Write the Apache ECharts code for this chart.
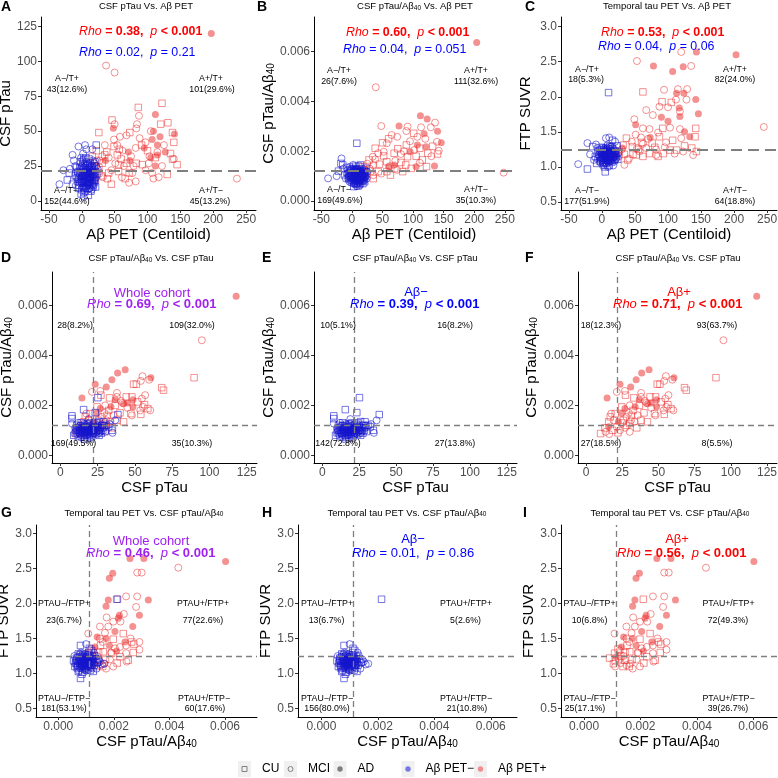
<!DOCTYPE html>
<html><head><meta charset="utf-8">
<script src="https://cdn.jsdelivr.net/npm/echarts@6.0.0/dist/echarts.min.js"></script>
<style>html,body{margin:0;padding:0;background:#fff;}#c{width:778px;height:778px;}</style>
</head><body><div id="c"></div>
<script>
// ---------- tick labels ----------
const clTicks = [-50, 0, 50, 100, 150, 200, 250];
const ptauTicks = [0, 25, 50, 75, 100, 125];
const ratioTicks = [0, 0.002, 0.004, 0.006];
const ftpTicks = [0.5, 1.0, 1.5, 2.0, 2.5, 3.0];

// ---------- thresholds ----------
const ptauCut = 21.8, ratioCut = 0.0012, ratioCutTau = 0.00113, ftpCut = 1.25;

// ---------- Panel A: [Centiloid, CSF pTau] ----------
const A_negCU = [[-22,15],[-19,20],[-14,12],[-10,18],[-8,24],[-6,14],[-5,9],[-3,20],[-2,28],[0,16],[1,11],[2,22],[3,6],[4,18],[5,26],[6,13],[7,20],[8,9],[9,16],[10,23],[11,30],[12,14],[13,19],[14,7],[15,25],[16,12],[17,18],[18,22],[19,15],[20,28],[21,10],[22,40],[23,19],[6,31],[-1,5],[10,4],[3,14],[8,25],[13,11],[-4,17],
  [-6,20],[-4,11],[-2,15],[-1,23],[0,8],[1,14],[2,18],[2,27],[3,10],[4,21],[4,14],[5,7],[5,19],[6,17],[6,24],[7,11],[7,15],[8,21],[8,13],[9,19],[9,27],[10,16],[10,9],[11,20],[11,13],[12,17],[12,22],[13,15],[14,24],[14,17],[15,13],[15,20],[16,16],[16,24],[17,10],[18,14],[18,19],[19,25],[20,17],[21,21],[-3,24],[-5,16],[3,30],[13,27]];
const A_negMCI = [[-34,12],[-28,22],[-18,23],[-14,33],[-12,29],[-5,39],[2,34],[5,40],[7,37],[16,37],[-9,11],[-7,21],[-3,13],[0,25],[1,19],[4,10],[5,15],[7,28],[9,21],[11,17],[12,26],[14,21],[15,8],[17,29],[19,19],[20,13],[24,23],[-1,31],[3,3],[10,13],
  [-8,17],[-2,21],[0,13],[2,9],[3,24],[5,21],[6,9],[8,16],[9,12],[11,24],[12,9],[13,16],[15,18],[16,21],[18,11],[19,27],[21,16],[22,25],[-10,25],[1,29]];
const A_negAD = [[8,19],[-2,17]];
const A_posCU = [[122,70],[86,67],[131,56],[120,55],[46,58],[26,49],[138,49],[73,49],[91,40],[112,31],[135,34],[138,30],[54,33],[38,35],[31,27],[56,26],[68,27],[83,27],[92,26],[145,26],[130,19],[41,20],[56,21],[72,20],[66,16],[39,16],[26,20],[21,15],[21,25],[26,24],[16,32],[49,39],[57,37],[35,33],[140,42],[100,36],[60,30],[30,18],[45,12],[22,36]];
const A_posMCI = [[37,97],[50,92],[87,61],[84,55],[50,55],[105,50],[68,47],[83,52],[58,46],[49,44],[97,42],[115,35],[103,32],[31,32],[41,31],[27,29],[51,27],[64,25],[79,25],[102,27],[97,22],[122,25],[140,30],[107,20],[109,16],[117,17],[45,22],[77,20],[82,14],[72,13],[61,17],[32,17],[236,16],[17,22],[23,29],[54,40],[82,38],[88,45],[125,40],[62,36],[35,40],[75,32]];
const A_posAD = [[197,120],[112,62],[48,52],[109,50],[141,48],[107,44],[115,40],[127,35],[115,33],[71,35],[73,29],[36,29],[112,25],[105,31],[119,46],[95,38]];

// ---------- Panel B: [Centiloid, CSF pTau/Abeta40] ----------
const B_negCU = [[8,0.00232],[-18,0.00151],[-15,0.00145],[-22,0.0012],[-12,0.00105],[-8,0.00135],[-5,0.0009],[-3,0.0012],[0,0.00075],[1,0.00103],[2,0.0013],[4,0.00088],[5,0.00115],[6,0.00068],[7,0.00098],[8,0.00125],[9,0.0008],[10,0.00108],[11,0.0014],[12,0.00092],[13,0.00118],[14,0.0007],[15,0.001],[16,0.00128],[17,0.00085],[18,0.0011],[19,0.00095],[20,0.0012],[21,0.00078],[22,0.00105],[23,0.00132],[-2,0.00098],[3,0.00058],[10,0.0006],[-6,0.00112],[14,0.00145],[6,0.0014],[0,0.00125],[18,0.0007],
  [-6,0.00095],[-4,0.0011],[-2,0.00085],[-1,0.0012],[0,0.001],[1,0.00082],[2,0.00112],[3,0.00095],[4,0.00125],[5,0.0008],[5,0.001],[6,0.00118],[7,0.0009],[7,0.00072],[8,0.00108],[9,0.00095],[9,0.00118],[10,0.00085],[11,0.001],[11,0.00078],[12,0.00112],[13,0.00088],[13,0.00128],[14,0.001],[15,0.00082],[15,0.00115],[16,0.00095],[17,0.0012],[18,0.0009],[19,0.00108],[20,0.00085],[21,0.001],[22,0.00118],[3,0.00072],[12,0.00065],[-3,0.001],[6,0.00088],[16,0.0011]];
const B_negMCI = [[-17,0.00171],[-39,0.00091],[-25,0.001],[-10,0.0009],[-7,0.00125],[-4,0.00078],[-1,0.0011],[1,0.0009],[3,0.00122],[4,0.0007],[6,0.00105],[7,0.00085],[9,0.0013],[10,0.00095],[12,0.00075],[13,0.00108],[15,0.0009],[16,0.00115],[19,0.0008],[20,0.001],[24,0.0009],[25,0.00118],[-14,0.0013],[2,0.00145],[8,0.0006],[11,0.0012],[17,0.001],[-3,0.00138],
  [-5,0.001],[-2,0.0013],[0,0.0009],[2,0.001],[4,0.00095],[6,0.0012],[8,0.0009],[10,0.0011],[12,0.001],[14,0.00122],[16,0.00088],[18,0.00102],[20,0.00112],[22,0.00095],[5,0.0013],[9,0.0007],[13,0.00082],[-8,0.00108]];
const B_negAD = [[5,0.001],[12,0.00112]];
const B_posCU = [[101,0.00272],[50,0.00234],[111,0.00212],[89,0.00225],[124,0.00192],[140,0.00189],[91,0.00178],[69,0.00192],[52,0.00181],[28,0.00165],[57,0.00158],[80,0.00155],[88,0.00145],[122,0.00138],[97,0.00131],[57,0.00118],[43,0.00118],[24,0.00111],[18,0.00138],[83,0.00118],[63,0.00104],[38,0.00212],[30,0.0012],[45,0.00148],[70,0.0013],[115,0.00165],[132,0.0022],[60,0.0025],[35,0.0009],[20,0.00125],[75,0.0021],[105,0.0018]];
const B_posMCI = [[39,0.00457],[136,0.00315],[91,0.00299],[48,0.00301],[113,0.00296],[129,0.00296],[89,0.00281],[74,0.00258],[65,0.00265],[107,0.00258],[57,0.00232],[139,0.00238],[102,0.00205],[142,0.00202],[80,0.00189],[43,0.00192],[34,0.00178],[38,0.00167],[71,0.00162],[111,0.00154],[74,0.00125],[29,0.00131],[35,0.00104],[15,0.00098],[248,0.00114],[35,0.00145],[52,0.00198],[95,0.0024],[120,0.0025],[25,0.0015],[48,0.0011],[85,0.002],[62,0.0014],[130,0.0018]];
const B_posAD = [[204,0.00637],[112,0.00342],[123,0.00329],[77,0.00301],[107,0.00225],[146,0.00234],[121,0.00218],[95,0.00198],[69,0.00145],[60,0.00138],[105,0.00138],[135,0.00141],[118,0.0027],[140,0.0028]];

// ---------- Panel C: [Centiloid, FTP SUVR] ----------
const C_negCU = [[10,2.06],[5,0.93],[-22,0.97],[16,1.38],[-14,1.29],[-10,1.15],[-6,1.22],[-3,1.08],[0,1.18],[2,1.27],[3,1.05],[5,1.13],[6,1.21],[8,1.1],[9,1.3],[10,1.16],[11,1.02],[12,1.24],[13,1.12],[14,1.19],[15,1.07],[16,1.26],[17,1.14],[18,1.2],[19,1.09],[20,1.23],[22,1.17],[24,1.11],[-8,1.05],[1,1.12],[7,1.25],[4,1.0],[-1,1.28],[23,1.3],
  [-6,1.12],[-4,1.18],[-2,1.1],[-1,1.15],[0,1.24],[1,1.19],[2,1.13],[3,1.21],[3,1.1],[4,1.16],[5,1.22],[5,1.07],[6,1.12],[6,1.27],[7,1.17],[8,1.14],[8,1.23],[9,1.1],[9,1.19],[10,1.26],[10,1.08],[11,1.14],[11,1.2],[12,1.17],[13,1.23],[13,1.09],[14,1.15],[15,1.2],[16,1.12],[17,1.18],[18,1.1],[19,1.22],[20,1.15],[21,1.19],[2,1.03],[7,1.05],[12,1.29],[-3,1.24]];
const C_negMCI = [[-36,1.04],[11,1.42],[20,1.36],[6,1.41],[-22,1.34],[-18,1.18],[-12,1.1],[-7,1.27],[-4,1.14],[-2,1.2],[1,1.06],[3,1.16],[4,1.24],[7,1.09],[8,1.18],[10,1.22],[12,1.08],[14,1.13],[15,1.3],[17,1.02],[19,1.16],[21,1.11],[25,1.2],[-9,1.32],[0,1.1],[9,1.0],[13,1.28],[18,1.25],
  [-5,1.17],[-2,1.06],[0,1.21],[2,1.17],[4,1.11],[5,1.18],[7,1.21],[9,1.14],[11,1.17],[12,1.12],[14,1.22],[16,1.17],[18,1.14],[20,1.2],[22,1.13],[6,1.06],[10,1.11],[3,1.26]];
const C_negAD = [[6,1.15],[-1,1.2]];
const C_posCU = [[62,2.07],[105,1.92],[91,1.93],[92,1.55],[142,1.55],[87,1.43],[141,1.43],[37,1.41],[107,1.38],[76,1.34],[46,1.29],[32,1.31],[103,1.24],[113,1.24],[136,1.27],[143,1.22],[93,1.19],[72,1.19],[47,1.18],[34,1.18],[26,1.22],[62,1.15],[39,1.1],[52,1.17],[16,1.15],[60,1.35],[80,1.28],[125,1.3],[55,1.25],[85,1.15]];
const C_posMCI = [[53,2.51],[120,2.64],[135,2.44],[115,2.11],[129,2.11],[128,1.96],[112,1.96],[94,2.1],[87,1.86],[100,1.85],[118,1.79],[67,1.81],[77,1.74],[49,1.68],[62,1.55],[72,1.54],[103,1.56],[118,1.54],[85,1.49],[51,1.46],[59,1.42],[120,1.41],[97,1.35],[62,1.33],[67,1.27],[82,1.25],[123,1.22],[138,1.17],[110,1.19],[82,1.17],[57,1.22],[41,1.12],[26,1.15],[53,1.27],[34,1.03],[245,1.57],[70,1.4],[45,1.36],[95,1.28],[30,1.25]];
const C_posAD = [[78,2.44],[107,2.36],[143,2.64],[203,2.6],[123,2.43],[113,2.05],[124,2.05],[142,1.96],[117,1.84],[118,1.72],[146,1.76],[90,1.71],[51,1.6],[133,1.43],[73,1.42],[21,1.18],[31,1.27],[100,1.65],[125,1.5]];

// ---------- Panels D-F: [CSF pTau, CSF pTau/Abeta40] ----------
const DF_negCU = [[25.2,0.00231],[23.4,0.00171],[38.6,0.00163],[7.8,0.00158],[7.8,0.00147],[15.6,0.00183],[29,0.00134],[32.4,0.00114],[34.6,0.001],[10,0.0009],[11,0.0012],[12,0.00075],[13,0.001],[14,0.0013],[15,0.0008],[16,0.0011],[17,0.00095],[18,0.0007],[19,0.00125],[20,0.00085],[21,0.00105],[22,0.0012],[23,0.0009],[24,0.0013],[25,0.001],[26,0.0008],[27,0.0011],[28,0.0012],[30,0.00095],[12,0.00105],[14,0.00088],[18,0.00115],[20,0.0013],[9,0.0008],[16,0.00065],[31,0.0012],[26,0.00135],[22,0.00098],
  [10.5,0.001],[11.5,0.00095],[12.5,0.00112],[13.5,0.00085],[14.5,0.001],[15,0.00118],[15.5,0.00092],[16.5,0.00098],[17,0.00115],[17.5,0.00085],[18.5,0.00102],[19,0.00092],[19.5,0.0008],[20,0.0011],[20.5,0.00098],[21.5,0.00088],[22.5,0.00105],[23.5,0.00115],[24,0.00085],[24.5,0.001],[25.5,0.00112],[26.5,0.00098],[27.5,0.00088],[28.5,0.001],[29.5,0.00118],[13,0.0009],[16,0.00078],[21,0.00075],[18,0.00125],[23,0.00125],[14,0.0011],[19,0.001]];
const DF_negMCI = [[36.8,0.0014],[7.8,0.00127],[10,0.0011],[11,0.00085],[13,0.00118],[14,0.00072],[15,0.00102],[16,0.00125],[17,0.0008],[18,0.00092],[19,0.0011],[20,0.00068],[21,0.00095],[22,0.00082],[23,0.0011],[24,0.00093],[25,0.0012],[27,0.00095],[29,0.0011],[33,0.00125],[35,0.0009],[12,0.0013],[19,0.00145],[17,0.00105],[26,0.0009],
  [11,0.001],[12.5,0.0009],[14,0.00098],[15.5,0.0011],[17,0.00092],[18.5,0.00085],[20,0.001],[21.5,0.00112],[23,0.00098],[24.5,0.0011],[26,0.00102],[27.5,0.0012],[16,0.0009],[19.5,0.00118],[22,0.0009],[13.5,0.0012]];
const DF_negAD = [[18,0.001],[21,0.0011]];
const DF_posCU = [[89.7,0.00311],[49.1,0.00285],[51,0.00285],[68,0.00271],[69.2,0.00261],[27.2,0.00241],[44.2,0.00234],[48,0.00234],[51.8,0.00214],[36.8,0.002],[47.3,0.00167],[54,0.00164],[58.7,0.00187],[56.5,0.00203],[32.4,0.0018],[24.6,0.00194],[31.3,0.0016],[20.1,0.00167],[25.7,0.0014],[37.9,0.0014],[42.4,0.00134],[30.1,0.00127],[18.3,0.001],[10,0.00087],[15.6,0.00134],[16.7,0.00154],[28,0.0012],[22,0.0009],[35,0.0011],[13,0.0011],[40,0.0017],[33,0.0023]];
const DF_posMCI = [[94.9,0.00461],[55.1,0.00317],[54,0.00298],[59.6,0.00303],[26.8,0.00258],[21.2,0.00254],[37.9,0.00234],[40.6,0.00218],[56.9,0.00241],[54.7,0.00227],[41.7,0.0021],[55.4,0.00194],[53.6,0.0018],[60.3,0.0018],[30.1,0.002],[29.5,0.0017],[17.4,0.00167],[27.9,0.00154],[35.7,0.0016],[33.5,0.00134],[21.2,0.00114],[13.4,0.00094],[23.4,0.001],[30.1,0.00094],[45,0.0019],[25,0.0013],[19,0.0014],[38,0.0025],[31,0.0014],[48,0.0016],[16,0.00085],[27,0.0011]];
const DF_posAD = [[117.9,0.00637],[43.5,0.00343],[38.4,0.0033],[34.6,0.00303],[60.7,0.00311],[23.4,0.00285],[14.5,0.0023],[30.8,0.00274],[36.8,0.00223],[48.7,0.00223],[42.4,0.00207],[48.7,0.00194],[26.8,0.00187],[24.6,0.00167],[22.3,0.00134],[15.6,0.00114],[33.9,0.00194],[45,0.0021]];

// ---------- Panels G-I: [CSF pTau/Abeta40, FTP SUVR] ----------
const GI_negCU = [[0.00213,2.06],[0.0008,1.40],[0.00112,1.36],[0.0008,0.93],[0.00085,0.99],[0.0006,1.1],[0.00065,1.22],[0.0007,1.15],[0.00072,1.28],[0.00075,1.05],[0.0008,1.18],[0.00083,1.1],[0.00086,1.25],[0.0009,1.13],[0.00093,1.2],[0.00096,1.06],[0.001,1.16],[0.00103,1.23],[0.00106,1.1],[0.0011,1.3],[0.00113,1.14],[0.00116,1.2],[0.0012,1.08],[0.00123,1.25],[0.00127,1.17],[0.0013,1.12],[0.00135,1.21],[0.0014,1.16],[0.00055,1.18],[0.00088,1.02],[0.00098,1.27],[0.00118,1.33],[0.00068,1.08],[0.00105,1.19],[0.00126,1.03],
  [0.00062,1.15],[0.00066,1.2],[0.0007,1.1],[0.00074,1.17],[0.00077,1.23],[0.0008,1.12],[0.00082,1.2],[0.00085,1.15],[0.00087,1.08],[0.0009,1.18],[0.00092,1.24],[0.00094,1.13],[0.00097,1.2],[0.00099,1.1],[0.00101,1.17],[0.00104,1.14],[0.00107,1.22],[0.00109,1.07],[0.00111,1.17],[0.00114,1.25],[0.00117,1.12],[0.0012,1.19],[0.00122,1.14],[0.00124,1.21],[0.00078,1.27],[0.00089,1.28],[0.00101,1.05],[0.00116,1.05],[0.00072,1.03],[0.00095,1.16]];
const GI_negMCI = [[0.001,1.42],[0.00157,1.13],[0.00142,1.15],[0.00166,1.14],[0.0015,1.17],[0.00058,1.25],[0.00066,1.12],[0.00074,1.2],[0.00078,1.08],[0.00084,1.15],[0.00088,1.22],[0.00092,1.1],[0.00095,1.17],[0.00099,1.24],[0.00102,1.04],[0.00108,1.14],[0.00111,1.22],[0.00115,1.09],[0.00119,1.17],[0.00124,1.12],[0.00132,1.26],[0.00138,1.07],[0.00145,1.2],[0.00128,1.3],[0.00082,1.3],
  [0.00064,1.18],[0.0007,1.24],[0.00076,1.14],[0.00081,1.19],[0.00086,1.11],[0.0009,1.2],[0.00094,1.15],[0.00098,1.12],[0.00103,1.19],[0.00106,1.26],[0.0011,1.12],[0.00113,1.19],[0.00118,1.23],[0.00121,1.16],[0.00085,1.25],[0.00097,1.08]];
const GI_negAD = [[0.00095,1.12],[0.0011,1.15]];
const GI_posCU = [[0.0021,2.06],[0.00234,1.57],[0.00198,1.49],[0.00272,1.42],[0.00264,1.45],[0.00152,1.40],[0.00162,1.31],[0.00192,1.29],[0.00222,1.24],[0.00252,1.19],[0.00144,1.19],[0.00138,1.10],[0.00212,1.15],[0.00124,1.21],[0.00104,1.14],[0.00108,1.29],[0.0013,1.25],[0.0017,1.2],[0.0011,1.18],[0.0016,1.1],[0.00145,1.3],[0.0012,1.35],[0.0009,1.22],[0.0027,1.3]];
const GI_posMCI = [[0.00432,2.51],[0.00284,2.44],[0.003,2.44],[0.00284,2.10],[0.00244,2.10],[0.0028,1.95],[0.00236,1.85],[0.00174,1.80],[0.00198,1.74],[0.00224,1.74],[0.0018,1.67],[0.0015,1.67],[0.00168,1.58],[0.00108,1.57],[0.0015,1.50],[0.0026,1.50],[0.00292,1.45],[0.00244,1.40],[0.00204,1.36],[0.00292,1.34],[0.00244,1.29],[0.00246,1.17],[0.00186,1.20],[0.00164,1.14],[0.00198,1.10],[0.00172,1.07],[0.0015,1.12],[0.00126,1.33],[0.00222,1.38],[0.0014,1.25],[0.0019,1.3],[0.0011,1.1],[0.0016,1.45],[0.0013,1.15]];
const GI_posAD = [[0.00602,2.60],[0.00308,2.64],[0.00258,2.64],[0.00196,2.43],[0.00184,2.36],[0.00324,2.05],[0.0018,2.05],[0.00172,1.96],[0.0022,1.83],[0.00216,1.79],[0.00292,1.83],[0.00268,1.67],[0.00204,1.60],[0.0014,1.52],[0.00172,1.50],[0.00184,1.40],[0.00132,1.38],[0.0021,1.32],[0.00114,1.24],[0.0024,1.45]];

// ---------- styling ----------
const FONT = "'Liberation Sans', Arial, Helvetica, sans-serif";
const BLUE = 'rgba(20,20,205,0.72)', BLUEF = 'rgba(20,20,205,0.62)';
const RED = 'rgba(235,35,35,0.62)', REDF = 'rgba(235,45,45,0.66)';

function mk(gi, data, kind, grp) {
  const col = grp === 'neg' ? BLUE : RED;
  const s = { type: 'scatter', xAxisIndex: gi, yAxisIndex: gi, data: data, silent: true, animation: false, z: grp === 'neg' ? 3 : 2 };
  if (kind === 'CU') { s.symbol = 'rect'; s.symbolSize = 6.5; s.itemStyle = { color: 'rgba(0,0,0,0)', borderColor: col, borderWidth: 1 }; }
  else if (kind === 'MCI') { s.symbol = 'circle'; s.symbolSize = 7; s.itemStyle = { color: 'rgba(0,0,0,0)', borderColor: col, borderWidth: 1 }; }
  else { s.symbol = 'circle'; s.symbolSize = 7; s.itemStyle = { color: grp === 'neg' ? BLUEF : REDF, borderWidth: 0 }; }
  return s;
}
const negSets = (cu, mci, ad) => [[cu, 'CU', 'neg'], [mci, 'MCI', 'neg'], [ad, 'AD', 'neg']];
const posSets = (cu, mci, ad) => [[cu, 'CU', 'pos'], [mci, 'MCI', 'pos'], [ad, 'AD', 'pos']];

const subRich = (fs) => ({ s: { fontSize: fs, verticalAlign: 'bottom', fontFamily: FONT, color: '#000', fill: '#000' } });
const RATIO_NAME = 'CSF pTau/Aβ{s|40}';

const P = [
  { g: [41, 17, 215, 193], xr: [-62, 265], yr: [-6.5, 131.8], xt: clTicks, yt: ptauTicks, xf: 0, yf: 0, xn: 'Aβ PET (Centiloid)', yn: 'CSF pTau', xg: 10.5, yg: 24, sets: posSets(A_posCU, A_posMCI, A_posAD).concat(negSets(A_negCU, A_negMCI, A_negAD)), h: ptauCut, v: null, row: 1 },
  { g: [314, 17, 200, 193], xr: [-62, 265], yr: [-0.00036, 0.00739], xt: clTicks, yt: ratioTicks, xf: 0, yf: 3, xn: 'Aβ PET (Centiloid)', yn: RATIO_NAME, xg: 10.5, yg: 36, sets: posSets(B_posCU, B_posMCI, B_posAD).concat(negSets(B_negCU, B_negMCI, B_negAD)), h: ratioCut, v: null, row: 1 },
  { g: [561, 17, 216, 193], xr: [-62, 265], yr: [0.386, 3.138], xt: clTicks, yt: ftpTicks, xf: 0, yf: 1, xn: 'Aβ PET (Centiloid)', yn: 'FTP SUVR', xg: 10.5, yg: 28, sets: posSets(C_posCU, C_posMCI, C_posAD).concat(negSets(C_negCU, C_negMCI, C_negAD)), h: ftpCut, v: null, row: 1 },
  { g: [52, 272, 205, 191], xr: [-5.6, 131.9], yr: [-0.00031, 0.007347], xt: ptauTicks, yt: ratioTicks, xf: 0, yf: 3, xn: 'CSF pTau', yn: RATIO_NAME, xg: 13, yg: 35.5, sets: posSets(DF_posCU, DF_posMCI, DF_posAD).concat(negSets(DF_negCU, DF_negMCI, DF_negAD)), h: ratioCut, v: ptauCut, row: 2 },
  { g: [314, 272, 203, 191], xr: [-5.6, 131.9], yr: [-0.00031, 0.007347], xt: ptauTicks, yt: ratioTicks, xf: 0, yf: 3, xn: 'CSF pTau', yn: RATIO_NAME, xg: 13, yg: 37, sets: negSets(DF_negCU, DF_negMCI, DF_negAD), h: ratioCut, v: ptauCut, row: 2 },
  { g: [578, 272, 199, 191], xr: [-5.6, 131.9], yr: [-0.00031, 0.007347], xt: ptauTicks, yt: ratioTicks, xf: 0, yf: 3, xn: 'CSF pTau', yn: RATIO_NAME, xg: 13, yg: 39, sets: posSets(DF_posCU, DF_posMCI, DF_posAD), h: ratioCut, v: ptauCut, row: 2 },
  { g: [36, 525, 221, 192], xr: [-0.0008, 0.00715], yr: [0.38, 3.119], xt: ratioTicks, yt: ftpTicks, xf: 3, yf: 1, xn: RATIO_NAME, yn: 'FTP SUVR', xg: 15, yg: 20, sets: posSets(GI_posCU, GI_posMCI, GI_posAD).concat(negSets(GI_negCU, GI_negMCI, GI_negAD)), h: ftpCut, v: ratioCutTau, row: 3 },
  { g: [298, 525, 219, 192], xr: [-0.00083, 0.00693], yr: [0.38, 3.119], xt: ratioTicks, yt: ftpTicks, xf: 3, yf: 1, xn: RATIO_NAME, yn: 'FTP SUVR', xg: 15, yg: 22, sets: negSets(GI_negCU, GI_negMCI, GI_negAD), h: ftpCut, v: ratioCutTau, row: 3 },
  { g: [561, 525, 216, 192], xr: [-0.00082, 0.00684], yr: [0.38, 3.119], xt: ratioTicks, yt: ftpTicks, xf: 3, yf: 1, xn: RATIO_NAME, yn: 'FTP SUVR', xg: 15, yg: 22, sets: posSets(GI_posCU, GI_posMCI, GI_posAD), h: ftpCut, v: ratioCutTau, row: 3 }
];

function axis(isX, i, p) {
  const r = isX ? p.xr : p.yr, t = isX ? p.xt : p.yt, f = isX ? p.xf : p.yf;
  return {
    type: 'value', gridIndex: i, min: r[0], max: r[1],
    name: isX ? p.xn : p.yn, nameLocation: 'middle', nameGap: isX ? p.xg : p.yg, nameRotate: isX ? 0 : 90,
    nameTextStyle: { fontSize: 15, color: '#000', fontFamily: FONT, rich: subRich(10) },
    axisLine: { show: true, onZero: false, lineStyle: { color: '#000', width: 1 } },
    axisTick: { show: true, length: 3, lineStyle: { color: '#333', width: 1 }, customValues: t },
    axisLabel: { show: true, color: '#4D4D4D', fontSize: 12, fontFamily: FONT, margin: 4, customValues: t,
      formatter: v => f > 0 ? Number(v).toFixed(f) : String(Math.round(v)) },
    splitLine: { show: false }
  };
}

const option = { animation: false, backgroundColor: '#fff', grid: [], xAxis: [], yAxis: [], series: [], graphic: { elements: [] } };
P.forEach((p, i) => {
  option.grid.push({ left: p.g[0], top: p.g[1], width: p.g[2], height: p.g[3], containLabel: false, outerBoundsMode: 'none' });
  option.xAxis.push(axis(true, i, p));
  option.yAxis.push(axis(false, i, p));
  const ser = p.sets.map(s => mk(i, s[0], s[1], s[2]));
  const ml = [];
  if (p.h != null) ml.push({ yAxis: p.h });
  if (p.v != null) ml.push({ xAxis: p.v });
  const last = ser[ser.length - 1];
  last.markLine = { silent: true, animation: false, precision: 8, symbol: ['none', 'none'], label: { show: false },
    lineStyle: p.row === 1 ? { color: '#7F7F7F', width: 2.2, type: [11, 6] } : { color: '#7F7F7F', width: 1.3, type: [6, 4] },
    emphasis: { disabled: true }, data: ml };
  option.series.push(...ser);
});

// ---------- text annotations ----------
const G = option.graphic.elements;
function T(x, y, text, size, o) {
  o = o || {};
  G.push({ type: 'text', x: x, y: y, silent: true, z: 100,
    style: { text: text, fontSize: size, fontFamily: FONT, fill: o.fill || '#000', fontWeight: o.weight || 'normal',
      align: o.align || 'center', verticalAlign: 'middle', rich: o.rich } });
}
function rich(color, size) {
  return {
    i: { fontStyle: 'italic', fontSize: size, fill: color, color: color, fontFamily: FONT },
    b: { fontWeight: 'bold', fontSize: size, fill: color, color: color, fontFamily: FONT },
    n: { fontSize: size, fill: color, color: color, fontFamily: FONT }
  };
}
function rho(x, y, r, p, sig, color, size) {
  const k = sig ? 'b' : 'n';
  T(x, y, '{i|Rho}{' + k + '| = ' + r + ',  }{i|p}{' + k + '| ' + p + '}', size, { align: 'left', rich: rich(color, size) });
}
const RED_T = '#FF0000', BLUE_T = '#0000FF', PURPLE = '#A020F0';
const titleRich = { s: { fontSize: 6.5, verticalAlign: 'bottom', fontFamily: FONT, fill: '#000' } };

// panel titles
[[146, 6.5, 'CSF pTau Vs. Aβ PET'], [415, 6.5, 'CSF pTau/Aβ{s|40} Vs. Aβ PET'], [667, 6.5, 'Temporal tau PET Vs. Aβ PET'],
 [151, 258.5, 'CSF pTau/Aβ{s|40} Vs. CSF pTau'], [415, 258.5, 'CSF pTau/Aβ{s|40} Vs. CSF pTau'], [678, 258.5, 'CSF pTau/Aβ{s|40} Vs. CSF pTau'],
 [144, 513, 'Temporal tau PET Vs. CSF pTau/Aβ{s|40}'], [407, 513, 'Temporal tau PET Vs. CSF pTau/Aβ{s|40}'], [670, 513, 'Temporal tau PET Vs. CSF pTau/Aβ{s|40}']
].forEach(t => T(t[0], t[1], t[2], 9.5, { rich: titleRich }));

// panel letters
[[1, 7, 'A'], [257, 7, 'B'], [525, 7, 'C'], [1, 258.5, 'D'], [262, 258.5, 'E'], [525, 258.5, 'F'], [1, 513, 'G'], [262, 513, 'H'], [523, 513, 'I']]
  .forEach(t => T(t[0], t[1], t[2], 14, { align: 'left', weight: 'bold' }));

// correlation annotations
const R1 = 12.4, R2 = 13;
rho(79, 32, '0.38', '< 0.001', true, RED_T, R1);
rho(79, 53, '0.02', '= 0.21', false, BLUE_T, R1);
rho(346, 33, '0.60', '< 0.001', true, RED_T, R1);
rho(343, 50, '0.04', '= 0.051', false, BLUE_T, R1);
rho(601, 33, '0.53', '< 0.001', true, RED_T, R1);
rho(598, 47, '0.04', '= 0.06', false, BLUE_T, R1);
T(152, 293, 'Whole cohort', R2, { fill: PURPLE });
rho(87, 304, '0.69', '< 0.001', true, PURPLE, R2);
T(416, 292, 'Aβ−', R2, { fill: BLUE_T });
rho(350, 304, '0.39', '< 0.001', true, BLUE_T, R2);
T(679, 292, 'Aβ+', R2, { fill: RED_T });
rho(613, 304, '0.71', '< 0.001', true, RED_T, R2);
T(151, 541, 'Whole cohort', R2, { fill: PURPLE });
rho(86, 553, '0.46', '< 0.001', true, PURPLE, R2);
T(413, 539.5, 'Aβ−', R2, { fill: BLUE_T });
rho(352, 553, '0.01', '= 0.86', false, BLUE_T, R2);
T(677, 539.5, 'Aβ+', R2, { fill: RED_T });
rho(617, 553, '0.56', '< 0.001', true, RED_T, R2);

// quadrant counts
const Q = 8.8;
[[67, 79, 'A−/T+'], [67, 90, '43(12.6%)'], [211, 79, 'A+/T+'], [212, 90, '101(29.6%)'],
 [66, 191, 'A−/T−'], [67, 202, '152(44.6%)'], [211, 191, 'A+/T−'], [210, 202, '45(13.2%)'],
 [339, 71, 'A−/T+'], [339, 81.7, '26(7.6%)'], [476, 71, 'A+/T+'], [476, 81.7, '111(32.6%)'],
 [339, 190, 'A−/T−'], [340, 201, '169(49.6%)'], [476, 190, 'A+/T−'], [476, 201, '35(10.3%)'],
 [587, 69.3, 'A−/T+'], [586, 80, '18(5.3%)'], [735, 69.3, 'A+/T+'], [735, 80, '82(24.0%)'],
 [587, 191, 'A−/T−'], [587, 201.7, '177(51.9%)'], [735, 191, 'A+/T−'], [735, 201.7, '64(18.8%)'],
 [75, 326, '28(8.2%)'], [192, 326, '109(32.0%)'], [73.5, 444, '169(49.5%)'], [192, 444, '35(10.3%)'],
 [338, 326, '10(5.1%)'], [455, 326, '16(8.2%)'], [338, 444, '142(72.8%)'], [455, 444, '27(13.8%)'],
 [601, 326, '18(12.3%)'], [717, 326, '93(63.7%)'], [601, 444, '27(18.5%)'], [717, 444, '8(5.5%)']
].forEach(t => T(t[0], t[1], t[2], Q));
const Q3 = 8.8;
[[64, 603.3, 'PTAU−/FTP+'], [64, 621, '23(6.7%)'], [203, 603.3, 'PTAU+/FTP+'], [203, 621, '77(22.6%)'],
 [64, 698.3, 'PTAU−/FTP−'], [64, 709, '181(53.1%)'], [204, 698.3, 'PTAU+/FTP−'], [205, 709, '60(17.6%)'],
 [327, 603.3, 'PTAU−/FTP+'], [326.5, 621, '13(6.7%)'], [466, 603.3, 'PTAU+/FTP+'], [465.5, 621, '5(2.6%)'],
 [327, 698.3, 'PTAU−/FTP−'], [327, 709, '156(80.0%)'], [466, 698.3, 'PTAU+/FTP−'], [467, 709, '21(10.8%)'],
 [589.5, 603.3, 'PTAU−/FTP+'], [589.5, 621, '10(6.8%)'], [728.5, 603.3, 'PTAU+/FTP+'], [728, 621, '72(49.3%)'],
 [589.5, 698.3, 'PTAU−/FTP−'], [585, 709, '25(17.1%)'], [728.5, 698.3, 'PTAU+/FTP−'], [728, 709, '39(26.7%)']
].forEach(t => T(t[0], t[1], t[2], Q3));

// ---------- legend ----------
const LY = 769;
const keys = [[244.5, 'CU', 'sq'], [290.5, 'MCI', 'ci'], [340, 'AD', 'fi'], [408, 'Aβ PET−', 'blue'], [480.5, 'Aβ PET+', 'red']];
keys.forEach(k => {
  G.push({ type: 'rect', silent: true, shape: { x: k[0] - 6.5, y: LY - 8, width: 13, height: 16 }, style: { fill: '#F0F0F0' } });
  if (k[2] === 'sq') G.push({ type: 'rect', silent: true, shape: { x: k[0] - 2.5, y: LY - 2.5, width: 5, height: 5 }, style: { fill: 'none', stroke: '#808080', lineWidth: 1 } });
  else if (k[2] === 'ci') G.push({ type: 'circle', silent: true, shape: { cx: k[0], cy: LY, r: 2.5 }, style: { fill: 'none', stroke: '#808080', lineWidth: 1 } });
  else if (k[2] === 'fi') G.push({ type: 'circle', silent: true, shape: { cx: k[0], cy: LY, r: 2.7 }, style: { fill: '#7F7F7F' } });
  else G.push({ type: 'circle', silent: true, shape: { cx: k[0], cy: LY, r: 2.7 }, style: { fill: k[2] === 'blue' ? 'rgba(40,40,220,0.6)' : 'rgba(240,60,60,0.55)' } });
  T(k[0] + 17.5, LY, k[1], 12, { align: 'left' });
});

const chart = echarts.init(document.getElementById('c'), null, { renderer: 'canvas' });
chart.setOption(option);
</script></body></html>
